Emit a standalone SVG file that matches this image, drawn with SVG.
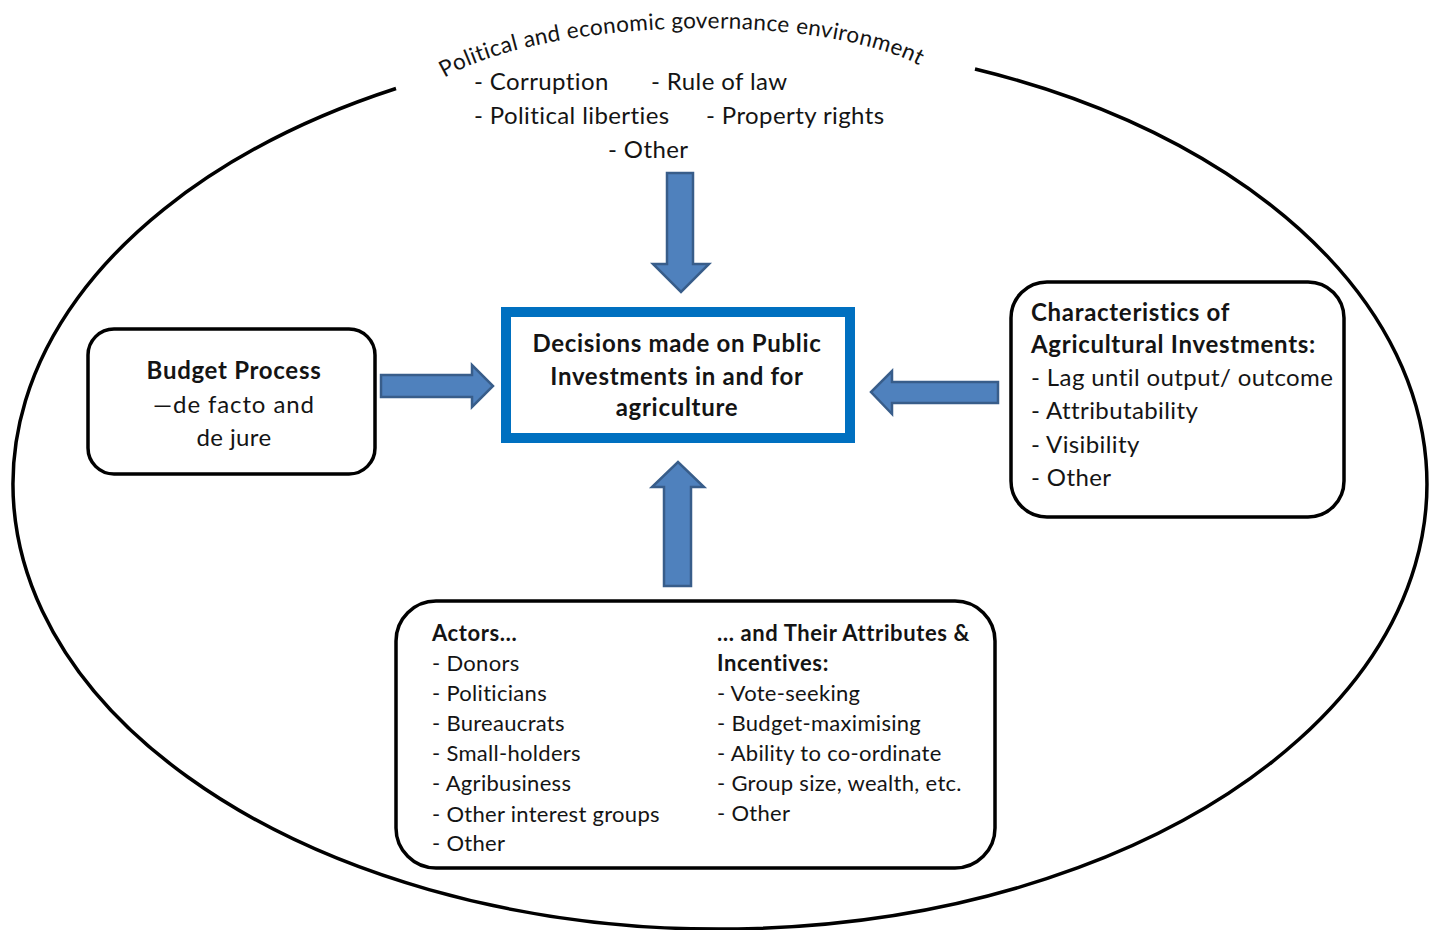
<svg xmlns="http://www.w3.org/2000/svg" width="1432" height="930" viewBox="0 0 1432 930">
<style>
.t{font-family:Lato,"Open Sans","Liberation Sans",sans-serif;fill:#141414;font-size:24px;letter-spacing:0.4px}
.b{font-weight:bold;letter-spacing:0.7px}
.s{font-size:22px;letter-spacing:0.3px}
.sb{font-size:22px;font-weight:bold;letter-spacing:0.6px}
.box{fill:#fff;stroke:#000;stroke-width:3.5}
.arr{fill:#4F81BD;stroke:#385D8A;stroke-width:2.5;stroke-linejoin:miter}
</style>
<defs>
<path id="arc" d="M 413.1,117.1 A 270,82 -1.5 0 1 952.9,102.9"/>
</defs>
<rect width="1432" height="930" fill="#fff"/>
<g id="environment">
<path d="M396,88.5 A707,445 0 1 0 975,69" fill="none" stroke="#000" stroke-width="3.5"/>
<text class="t" style="font-size:22.5px;letter-spacing:0.35px"><textPath href="#arc" startOffset="50%" text-anchor="middle">Political and economic governance environment</textPath></text>
<text class="t" x="474" y="90">- Corruption</text>
<text class="t" x="651" y="90">- Rule of law</text>
<text class="t" x="474" y="124">- Political liberties</text>
<text class="t" x="706" y="124">- Property rights</text>
<text class="t" x="608" y="158">- Other</text>
</g>
<g id="connectors">
<path class="arr" d="M667,173 H693 V264 H709 L681,292 L653,264 H667 Z"/>
<path class="arr" d="M381,375 H472 V365 L493,386 L472,407 V397 H381 Z"/>
<path class="arr" d="M998,382 V403 H892 V414 L871,392 L892,371 V382 Z"/>
<path class="arr" d="M664,586 V487 H652 L678,462 L704,487 H691 V586 Z"/>
</g>
<g id="decisions">
<rect x="506" y="312" width="344" height="126" fill="#fff" stroke="#0070C0" stroke-width="10"/>
<text class="t b" x="677" y="352" text-anchor="middle">Decisions made on Public</text>
<text class="t b" x="677" y="385" text-anchor="middle">Investments in and for</text>
<text class="t b" x="677" y="416" text-anchor="middle">agriculture</text>
</g>
<g id="budget">
<rect class="box" x="88" y="329" width="287" height="145" rx="26"/>
<text class="t b" x="234" y="379" text-anchor="middle">Budget Process</text>
<text class="t" x="234" y="413" text-anchor="middle" style="letter-spacing:0.9px">—de facto and</text>
<text class="t" x="234" y="446" text-anchor="middle">de jure</text>
</g>
<g id="characteristics">
<rect class="box" x="1011" y="282" width="333" height="235" rx="36"/>
<text class="t b" x="1031" y="321">Characteristics of</text>
<text class="t b" x="1031" y="353">Agricultural Investments:</text>
<text class="t" x="1031" y="386">- Lag until output/ outcome</text>
<text class="t" x="1031" y="419">- Attributability</text>
<text class="t" x="1031" y="453">- Visibility</text>
<text class="t" x="1031" y="486">- Other</text>
</g>
<g id="actors">
<rect class="box" x="396" y="601" width="599" height="267" rx="40"/>
<text class="t sb" x="432" y="641">Actors…</text>
<text class="t s" x="432" y="671">- Donors</text>
<text class="t s" x="432" y="701">- Politicians</text>
<text class="t s" x="432" y="731">- Bureaucrats</text>
<text class="t s" x="432" y="761">- Small-holders</text>
<text class="t s" x="432" y="791">- Agribusiness</text>
<text class="t s" x="432" y="822">- Other interest groups</text>
<text class="t s" x="432" y="851">- Other</text>
<text class="t sb" x="717" y="641">… and Their Attributes &amp;</text>
<text class="t sb" x="717" y="671">Incentives:</text>
<text class="t s" x="717" y="701">- Vote-seeking</text>
<text class="t s" x="717" y="731">- Budget-maximising</text>
<text class="t s" x="717" y="761">- Ability to co-ordinate</text>
<text class="t s" x="717" y="791">- Group size, wealth, etc.</text>
<text class="t s" x="717" y="821">- Other</text>
</g>
</svg>
